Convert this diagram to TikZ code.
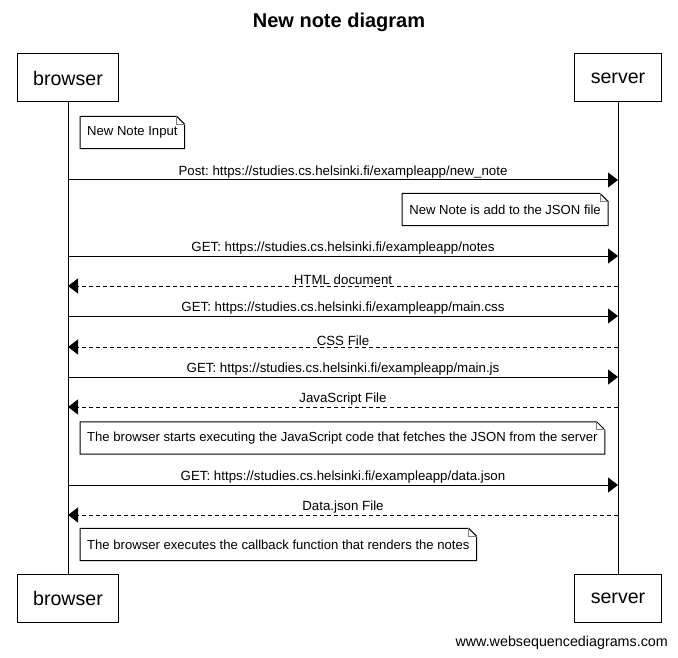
\documentclass[tikz,border=0pt]{standalone}
\usepackage{fontspec}
\setmainfont{Liberation Sans}
\usetikzlibrary{arrows.meta}
\frenchspacing
\newcommand{\drawnote}[1]{%
  \draw[notefr] (#1.north west) -- ([xshift=-8pt]#1.north east) -- ([yshift=-8pt]#1.north east) -- (#1.south east) -- (#1.south west) -- cycle;
  \draw[notefold] ([xshift=-8pt]#1.north east) -- ([xshift=-8pt,yshift=-8pt]#1.north east) -- ([yshift=-8pt]#1.north east);
}
\begin{document}
\begin{tikzpicture}[x=1pt,y=-1pt,
  actor/.style={draw, line width=1pt, fill=white, minimum height=48pt, inner xsep=16pt, font=\fontsize{19.6}{22}\selectfont},
  life/.style={line width=1pt},
  msg/.style={line width=1pt, -{Triangle[length=10pt,width=15pt]}},
  reply/.style={msg, dash pattern=on 4pt off 3pt},
  lbl/.style={font=\fontsize{13.3}{15}\selectfont, inner sep=0pt},
  notebox/.style={minimum height=32pt, inner xsep=7pt, inner ysep=0pt, font=\fontsize{13.1}{15}\selectfont},
  notefr/.style={line width=1pt, fill=white},
  notefold/.style={line width=0.8pt, draw=gray}
]
\useasboundingbox (0,0) rectangle (678,658);
\fill[white] (0,0) rectangle (678,658);
\node[font=\fontsize{20}{23}\selectfont\bfseries] (title) at (339,22) {New note diagram};
% participants
\node[actor] (bt) at (68,78) {browser};
\node[actor] (st) at (618,78) {server};
\node[actor] (bb) at (68,598) {browser};
\node[actor] (sb) at (618,598) {server};
\draw[life] (bt.south) -- (bb.north);
\draw[life] (st.south) -- (sb.north);
% message anchor points on lifelines
\foreach \n/\y in {1/180,2/256,3/286,4/316,5/347,6/377,7/407,8/485,9/515}{
  \coordinate (b\n) at (68,\y);
  \coordinate (s\n) at (618,\y);
}
% notes
\node[notebox, anchor=west] (n1) at (80,132.5) {New Note Input};
\drawnote{n1}
\node[notebox] at (n1) {New Note Input};
\node[notebox, anchor=east] (n2) at (608,209.5) {New Note is add to the JSON file};
\drawnote{n2}
\node[notebox] at (n2) {New Note is add to the JSON file};
\node[notebox, anchor=west] (n3) at (80,438) {The browser starts executing the JavaScript code that fetches the JSON from the server};
\drawnote{n3}
\node[notebox] at (n3) {The browser starts executing the JavaScript code that fetches the JSON from the server};
\node[notebox, anchor=west] (n4) at (80,544.5) {The browser executes the callback function that renders the notes};
\drawnote{n4}
\node[notebox] at (n4) {The browser executes the callback function that renders the notes};
% messages
\draw[msg] (b1) -- node[lbl, above=1pt] (l1) {Post: https://studies.cs.helsinki.fi/exampleapp/new\_note} (s1);
\draw[msg] (b2) -- node[lbl, above=1pt] (l2) {GET: https://studies.cs.helsinki.fi/exampleapp/notes} (s2);
\draw[reply] (s3) -- node[lbl, above=1pt] (l3) {HTML document} (b3);
\draw[msg] (b4) -- node[lbl, above=1pt] (l4) {GET: https://studies.cs.helsinki.fi/exampleapp/main.css} (s4);
\draw[reply] (s5) -- node[lbl, above=1pt] (l5) {CSS File} (b5);
\draw[msg] (b6) -- node[lbl, above=1pt] (l6) {GET: https://studies.cs.helsinki.fi/exampleapp/main.js} (s6);
\draw[reply] (s7) -- node[lbl, above=1pt] (l7) {JavaScript File} (b7);
\draw[msg] (b8) -- node[lbl, above=1pt] (l8) {GET: https://studies.cs.helsinki.fi/exampleapp/data.json} (s8);
\draw[reply] (s9) -- node[lbl, above=1pt] (l9) {Data.json File} (b9);
% footer
\node[font=\fontsize{14.3}{16}\selectfont, anchor=east, inner sep=0pt] (foot) at (668,643) {www.websequencediagrams.com};
\end{tikzpicture}
\end{document}
